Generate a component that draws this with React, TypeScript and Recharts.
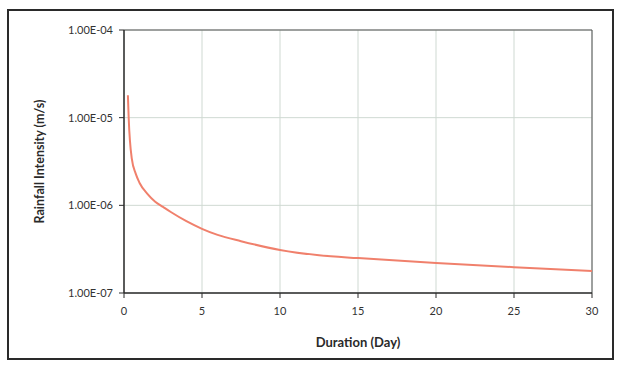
import { LineChart, Line, XAxis, YAxis, CartesianGrid, ReferenceLine } from 'recharts'

// duration in days and rainfall intensity in m/s
const durations = [0.25, 0.3, 0.5, 0.75, 1, 1.5, 2, 2.5, 3, 4, 5, 6, 7.5, 10, 12.5, 15, 20, 25, 30]
const intensities = [
  1.8e-5, 1.0e-5, 3.4e-6, 2.3e-6, 1.8e-6, 1.35e-6, 1.1e-6, 9.6e-7, 8.4e-7, 6.6e-7, 5.4e-7, 4.6e-7, 3.9e-7,
  3.1e-7, 2.7e-7, 2.5e-7, 2.2e-7, 1.97e-7, 1.78e-7,
]
const xTicks = [0, 5, 10, 15, 20, 25, 30]
const yTicks = [1e-7, 1e-6, 1e-5, 1e-4]

const data = durations.map((d, i) => ({ day: d, rate: intensities[i] }))

const FONT = 'Lato, "Open Sans", sans-serif'
const TICK_STYLE = { fontSize: 11, fill: '#333', fontFamily: FONT }
const AXIS_LINE = { stroke: '#2b2b2b', strokeWidth: 1.5 }

const fmtSci = (v: number) => {
  const exp = Math.round(Math.log10(v))
  const sign = exp < 0 ? '-' : '+'
  return `1.00E${sign}${String(Math.abs(exp)).padStart(2, '0')}`
}

export default function App() {
  return (
    <div style={{ position: 'absolute', left: 0, top: 0, width: 617, height: 369, background: '#fff' }}>
      <div
        style={{
          position: 'absolute',
          left: 7,
          top: 9,
          width: 603,
          height: 347,
          border: '2px solid #2a2a2a',
        }}
      />
      <div style={{ position: 'absolute', left: 0, top: 0 }}>
        <LineChart width={617} height={369} data={data} margin={{ top: 30, right: 25, left: 30, bottom: 16 }}>
          <CartesianGrid stroke="#cfd9d2" strokeWidth={1} />
          <XAxis
            dataKey="day"
            type="number"
            domain={[0, 30]}
            ticks={xTicks}
            tick={TICK_STYLE}
            tickSize={5}
            tickMargin={9}
            axisLine={AXIS_LINE}
            tickLine={{ stroke: '#2b2b2b' }}
            height={60}
            label={{
              value: 'Duration (Day)',
              position: 'insideBottom',
              offset: 6,
              style: { fontSize: 13, fontWeight: 700, fill: '#2a2a2a', fontFamily: FONT },
            }}
          />
          <YAxis
            dataKey="rate"
            scale="log"
            domain={[1e-7, 1e-4]}
            ticks={yTicks}
            tickFormatter={fmtSci}
            tick={TICK_STYLE}
            tickSize={5}
            tickMargin={6}
            axisLine={AXIS_LINE}
            tickLine={{ stroke: '#2b2b2b' }}
            width={94}
            allowDataOverflow
            label={{
              value: 'Rainfall Intensity (m/s)',
              angle: -90,
              position: 'insideLeft',
              offset: 10,
              style: { fontSize: 12.5, fontWeight: 700, fill: '#2a2a2a', fontFamily: FONT, textAnchor: 'middle' },
            }}
          />
          <ReferenceLine y={1e-4} stroke="#555" strokeWidth={1} />
          <ReferenceLine x={30} stroke="#555" strokeWidth={1} />
          <Line
            type="monotone"
            dataKey="rate"
            stroke="#f0806c"
            strokeWidth={2}
            dot={false}
            isAnimationActive={false}
          />
        </LineChart>
      </div>
    </div>
  )
}
